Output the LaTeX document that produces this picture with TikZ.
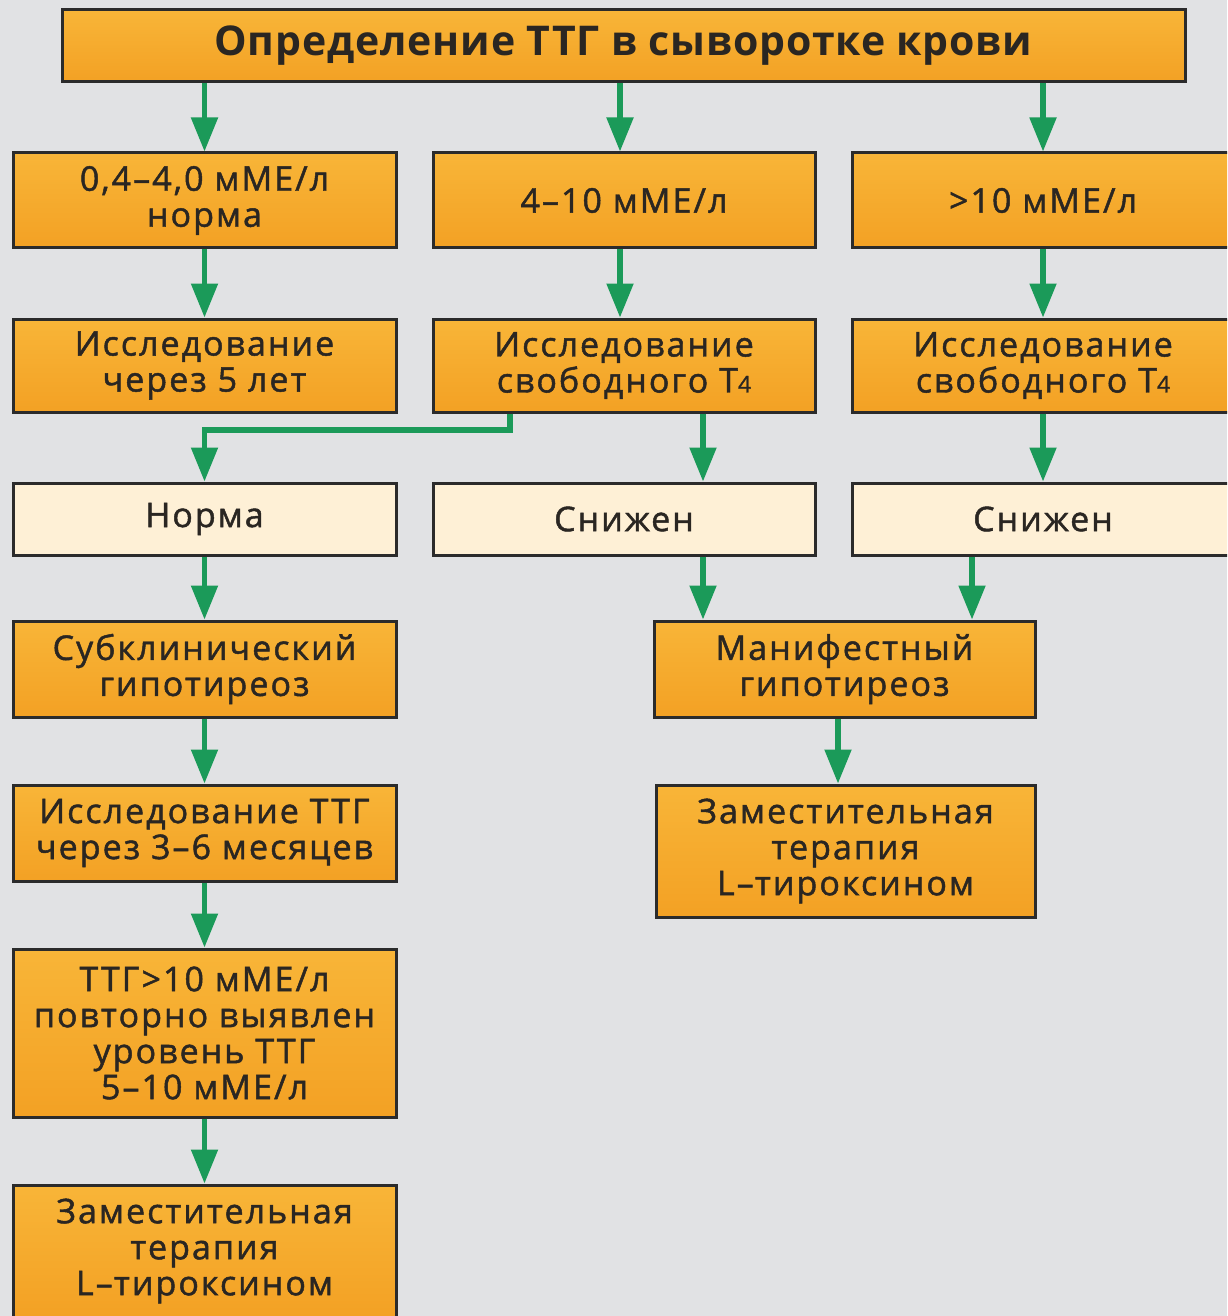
\documentclass[tikz,border=0pt]{standalone}
\usepackage{fontspec}
\setmainfont{Open Sans}
\usetikzlibrary{arrows.meta,calc}
\definecolor{bg}{HTML}{E1E2E4}
\definecolor{boxline}{HTML}{2B2B2B}
\definecolor{txt}{HTML}{2A2622}
\definecolor{otop}{HTML}{F8B538}
\definecolor{omid}{HTML}{FCCF6E}
\definecolor{obot}{HTML}{F3A124}
\definecolor{cream}{HTML}{FEF0D6}
\definecolor{arrgreen}{HTML}{1B9A59}
\newcommand{\bodyfont}{\addfontfeatures{LetterSpace=6,FakeBold=1.4}\fontsize{17}{18}\selectfont}
\newcommand{\titlefont}{\bfseries\addfontfeatures{LetterSpace=2}\fontsize{20.5}{22}\selectfont}
\newcommand{\sub}[1]{{\fontsize{11.5}{11.5}\selectfont #1}}
\begin{document}
\begin{tikzpicture}[x=0.5pt,y=-0.5pt,
  base/.style={draw=boxline, line width=1.5pt, inner sep=0pt, align=center,
    text=txt, font=\bodyfont, anchor=center},
  obox/.style={base, top color=otop, middle color=omid, bottom color=obot},
  lbox/.style={base, fill=cream},
  arr/.style={draw=arrgreen, line width=2.6pt,
    -{Triangle[length=17pt,width=13pt]}}]
\fill[bg] (0,0) rectangle (1227,1316);
\useasboundingbox (0,0) rectangle (1227,1316);
\clip (0,0) rectangle (1227,1316);

\node[obox, minimum width=561.5pt, minimum height=36pt, font=\titlefont] (top) at (623.5,46) {Определение ТТГ в сыворотке крови};

\node[obox, minimum width=191.5pt, minimum height=47.5pt] (A1) at (204.5,200.5) {0,4–4,0 мМЕ/л\\норма};
\node[obox, minimum width=191pt, minimum height=47.5pt] (B1) at (624,200.5) {4–10 мМЕ/л};
\node[obox, minimum width=191pt, minimum height=47.5pt] (C1) at (1043,200.5) {>10 мМЕ/л};

\node[obox, minimum width=191.5pt, minimum height=46.5pt] (A2) at (204.5,365.5) {Исследование\\через 5 лет};
\node[obox, minimum width=191pt, minimum height=46.5pt] (B2) at (624,365.5) {Исследование\\свободного Т\sub{4}};
\node[obox, minimum width=191pt, minimum height=46.5pt] (C2) at (1043,365.5) {Исследование\\свободного Т\sub{4}};

\node[lbox, minimum width=191.5pt, minimum height=36pt] (A3) at (204.5,519) {Норма};
\node[lbox, minimum width=191pt, minimum height=36pt] (B3) at (624,519) {Снижен};
\node[lbox, minimum width=191pt, minimum height=36pt] (C3) at (1043,519) {Снижен};

\node[obox, minimum width=191.5pt, minimum height=48pt] (A4) at (204.5,669) {Субклинический\\гипотиреоз};
\node[obox, minimum width=190.5pt, minimum height=48pt] (M4) at (844.5,669) {Манифестный\\гипотиреоз};

\node[obox, minimum width=191.5pt, minimum height=48pt] (A5) at (204.5,833) {Исследование ТТГ\\через 3–6 месяцев};
\node[obox, minimum width=189.5pt, minimum height=66pt] (M5) at (845.5,851) {Заместительная\\терапия\\L–тироксином};

\node[obox, minimum width=191.5pt, minimum height=84pt] (A6) at (204.5,1033) {ТТГ>10 мМЕ/л\\повторно выявлен\\уровень ТТГ\\5–10 мМЕ/л};
\node[obox, minimum width=191.5pt, minimum height=66pt] (A7) at (204.5,1251) {Заместительная\\терапия\\L–тироксином};

\coordinate (kB) at (510,430);
\coordinate (xB) at (703,0);
\coordinate (xC) at (972,0);
\coordinate (xT) at (620,0);
\coordinate (xM) at (838,0);

\draw[arr] (top.south -| A1) -- (A1.north);
\draw[arr] (top.south -| xT) -- (B1.north -| xT);
\draw[arr] (top.south -| C1) -- (C1.north);
\draw[arr] (A1) -- (A2);
\draw[arr] (B1.south -| xT) -- (B2.north -| xT);
\draw[arr] (C1) -- (C2);
\draw[arr] (B2.south -| kB) -- (kB) -| (A3.north);
\draw[arr] (B2.south -| xB) -- (B3.north -| xB);
\draw[arr] (C2) -- (C3);
\draw[arr] (B3.south -| xB) -- (M4.north -| xB);
\draw[arr] (C3.south -| xC) -- (M4.north -| xC);
\draw[arr] (A3) -- (A4);
\draw[arr] (A4) -- (A5);
\draw[arr] (A5) -- (A6);
\draw[arr] (A6) -- (A7);
\draw[arr] (M4.south -| xM) -- (M5.north -| xM);
\end{tikzpicture}
\end{document}
